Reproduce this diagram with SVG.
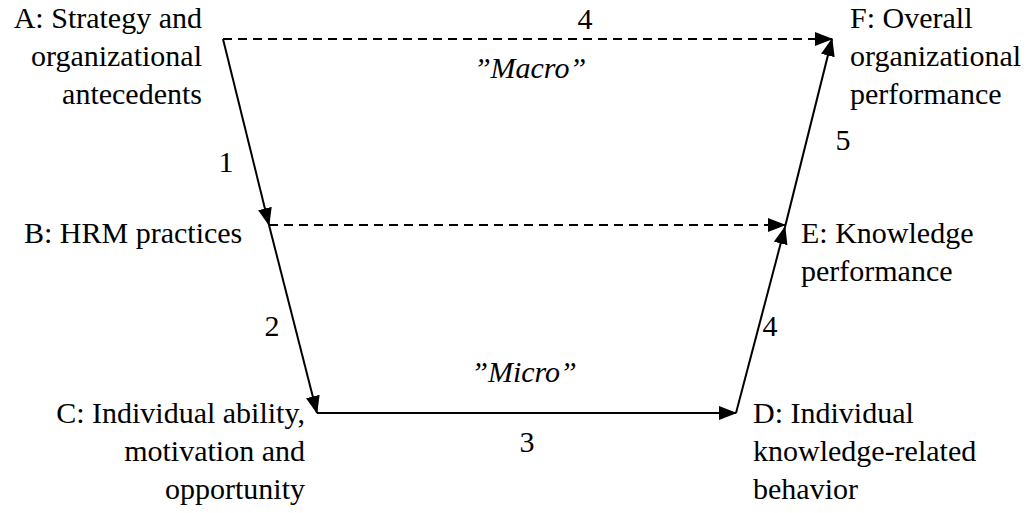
<svg xmlns="http://www.w3.org/2000/svg" width="1034" height="513" viewBox="0 0 1034 513" font-family="Liberation Serif, Tinos, Times New Roman, serif">
<style>
text{font-size:30px;fill:#000}
.it{font-style:italic}
.e{text-anchor:end}
.m{text-anchor:middle}
.ln{stroke:#000;stroke-width:2;fill:none}
.d{stroke-dasharray:9 6}
</style>
<defs>
<marker id="ah" markerUnits="userSpaceOnUse" markerWidth="18" markerHeight="14" refX="17" refY="7" orient="auto">
<path d="M0,0 L18,7 L0,14 Z" fill="#000"/>
</marker>
</defs>
<g id="connectors">
<line class="ln d" x1="223" y1="39" x2="832" y2="39" marker-end="url(#ah)"/>
<line class="ln" x1="223" y1="39" x2="269" y2="225" marker-end="url(#ah)"/>
<line class="ln d" x1="269" y1="225" x2="785" y2="225" marker-end="url(#ah)"/>
<line class="ln" x1="269" y1="225" x2="317" y2="413" marker-end="url(#ah)"/>
<line class="ln" x1="317" y1="413" x2="736" y2="413" marker-end="url(#ah)"/>
<line class="ln" x1="736" y1="413" x2="785" y2="227" marker-end="url(#ah)"/>
<line class="ln" x1="785" y1="227" x2="832" y2="39" marker-end="url(#ah)"/>
<text class="m" x="585" y="29">4</text>
<text class="m it" x="530" y="78">”Macro”</text>
<text class="m" x="226" y="172">1</text>
<text class="m" x="843" y="150">5</text>
<text class="m" x="272" y="336">2</text>
<text class="m" x="770" y="336">4</text>
<text class="m it" x="524" y="382">”Micro”</text>
<text class="m" x="527" y="452">3</text>
</g>
<g id="A"><text class="e" x="202" y="28">A: Strategy and</text><text class="e" x="202" y="66">organizational</text><text class="e" x="202" y="104">antecedents</text></g>
<g id="B"><text x="24" y="243">B: HRM practices</text></g>
<g id="C"><text class="e" x="305" y="423">C: Individual ability,</text><text class="e" x="305" y="461">motivation and</text><text class="e" x="305" y="499">opportunity</text></g>
<g id="D"><text x="753" y="423">D: Individual</text><text x="753" y="461">knowledge-related</text><text x="753" y="499">behavior</text></g>
<g id="E"><text x="801" y="243">E: Knowledge</text><text x="801" y="281">performance</text></g>
<g id="F"><text x="850" y="28">F: Overall</text><text x="850" y="66">organizational</text><text x="850" y="104">performance</text></g>
</svg>
